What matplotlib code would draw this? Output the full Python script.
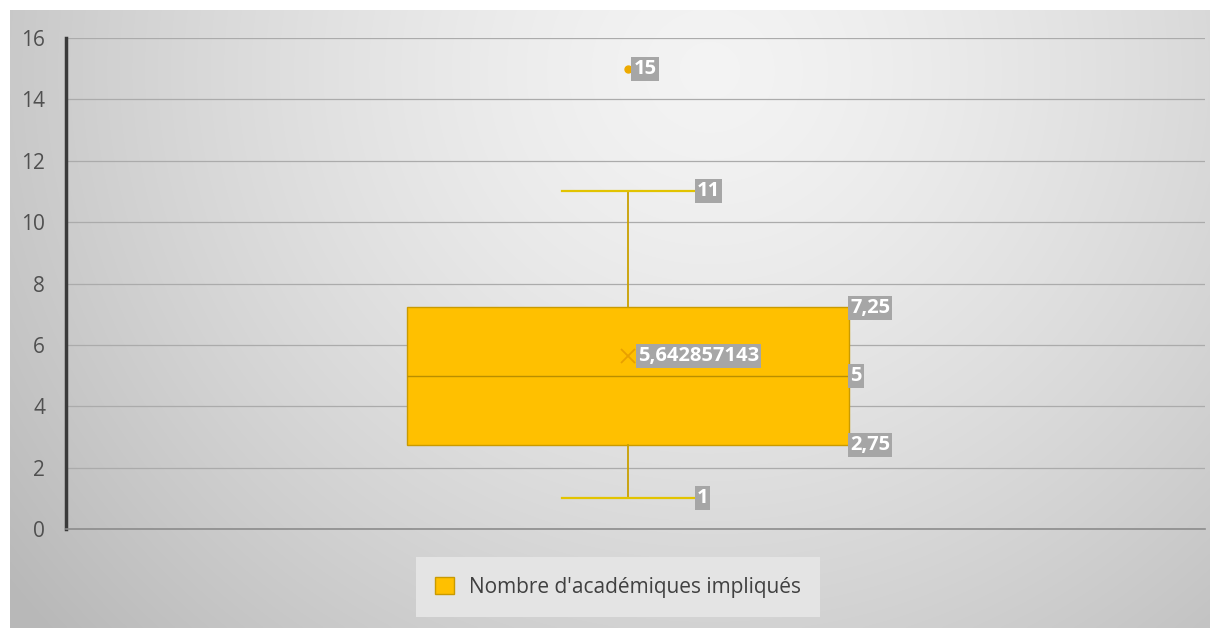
import numpy as np
import matplotlib
matplotlib.use("Agg")
import matplotlib.pyplot as plt
from matplotlib.patches import Rectangle

plt.rcParams['font.family'] = ['Open Sans', 'DejaVu Sans']

# ---- data ----
series_name = "Nombre d'académiques impliqués"
whisker_low = 1
q1 = 2.75
median = 5
q3 = 7.25
whisker_high = 11
mean_value = 5.642857143
outliers = [15]
y_ticks = [0, 2, 4, 6, 8, 10, 12, 14, 16]

def fmt(v):
    s = f"{v:.9f}".rstrip('0').rstrip('.')
    return s.replace('.', ',')

W, H = 1223, 628
fig = plt.figure(figsize=(W / 100, H / 100), dpi=100)
fig.patch.set_facecolor('white')

# background radial gradient panel
bg = fig.add_axes([10 / W, 0, 1200 / W, 618 / H], zorder=-5)
nx, ny = 600, 310
xx, yy = np.meshgrid(np.linspace(0, 1200, nx), np.linspace(0, 618, ny))
cx, cy = 700, 60
r = np.sqrt(((xx - cx) / 680) ** 2 + ((yy - cy) / 650) ** 2)
val = 0.955 - 0.16 * np.clip(r, 0, 1.3) ** 1.4
img = np.dstack([val, val, val])
bg.imshow(img, extent=[0, 1200, 618, 0], aspect='auto', interpolation='bilinear')
bg.set_axis_off()

# main axes
left, right = 66 / W, 1205 / W
bottom, top = (H - 529) / H, (H - 38) / H
ax = fig.add_axes([left, bottom, right - left, top - bottom])
ax.set_facecolor('none')

stats = [dict(whislo=whisker_low, q1=q1, med=median, q3=q3, whishi=whisker_high,
              mean=mean_value, fliers=outliers, label=series_name)]
box_color = '#FFC000'
ax.bxp(stats, positions=[1], widths=[0.786], capwidths=[0.235], showmeans=True,
       patch_artist=True, showfliers=True,
       boxprops=dict(facecolor=box_color, edgecolor='#C99A00', linewidth=1.0),
       medianprops=dict(color='#B98E00', linewidth=1.0),
       whiskerprops=dict(color='#C9A000', linewidth=1.3),
       capprops=dict(color='#E2C300', linewidth=1.6),
       meanprops=dict(marker='x', markeredgecolor='#E8A000', markersize=10, markeredgewidth=1.3),
       flierprops=dict(marker='o', markerfacecolor='#EDAA00', markeredgecolor='#EDAA00', markersize=5),
       zorder=3)

ax.set_xlim(0, 2.027)
ax.set_ylim(0, 16)
ax.set_yticks(y_ticks)
ax.set_xticks([])
ax.yaxis.grid(True, color='#ABABAB', linewidth=0.9)
ax.set_axisbelow(True)
ax.tick_params(axis='y', length=0, pad=15, labelsize=15, labelcolor='#505050')
for s in ['top', 'right']:
    ax.spines[s].set_visible(False)
ax.spines['left'].set_color('#3A3A3A')
ax.spines['left'].set_linewidth(2.5)
ax.spines['bottom'].set_color('#8C8C8C')
ax.spines['bottom'].set_linewidth(1.2)

# data labels
lab_kw = dict(textcoords='offset points', ha='left', va='center', color='white',
              fontsize=14.5, fontweight='bold',
              bbox=dict(boxstyle='square,pad=0.1', facecolor='#A6A6A6', edgecolor='none'),
              zorder=6)
half_box = 0.393
half_cap = 0.1175
for v in outliers:
    ax.annotate(fmt(v), (1, v), xytext=(4, 0), **lab_kw)
ax.annotate(fmt(whisker_high), (1 + half_cap, whisker_high), xytext=(2, 0), **lab_kw)
ax.annotate(fmt(whisker_low), (1 + half_cap, whisker_low), xytext=(2, 0), **lab_kw)
ax.annotate(fmt(q3), (1 + half_box, q3), xytext=(1, -1), **lab_kw)
ax.annotate(fmt(median), (1 + half_box, median), xytext=(1, 0), **lab_kw)
ax.annotate(fmt(q1), (1 + half_box, q1), xytext=(1, -0.5), **lab_kw)
ax.annotate(fmt(mean_value), (1, mean_value), xytext=(7, 0), **lab_kw)

# legend
handle = Rectangle((0, 0), 1, 1, facecolor=box_color, edgecolor='#C99A00', linewidth=1)
leg = fig.legend([handle], [series_name], loc='center', bbox_to_anchor=(618 / W, 1 - 587 / H),
                 frameon=True, fontsize=15, handlelength=0.9, handleheight=0.9,
                 handletextpad=0.7, borderpad=0.95, borderaxespad=0)
leg.get_frame().set_facecolor('#E4E4E4')
leg.get_frame().set_edgecolor('none')
leg.get_frame().set_alpha(1)
leg.get_frame().set_boxstyle('square', pad=0)
for t in leg.get_texts():
    t.set_color('#404040')

fig.savefig('out.png', dpi=100)
